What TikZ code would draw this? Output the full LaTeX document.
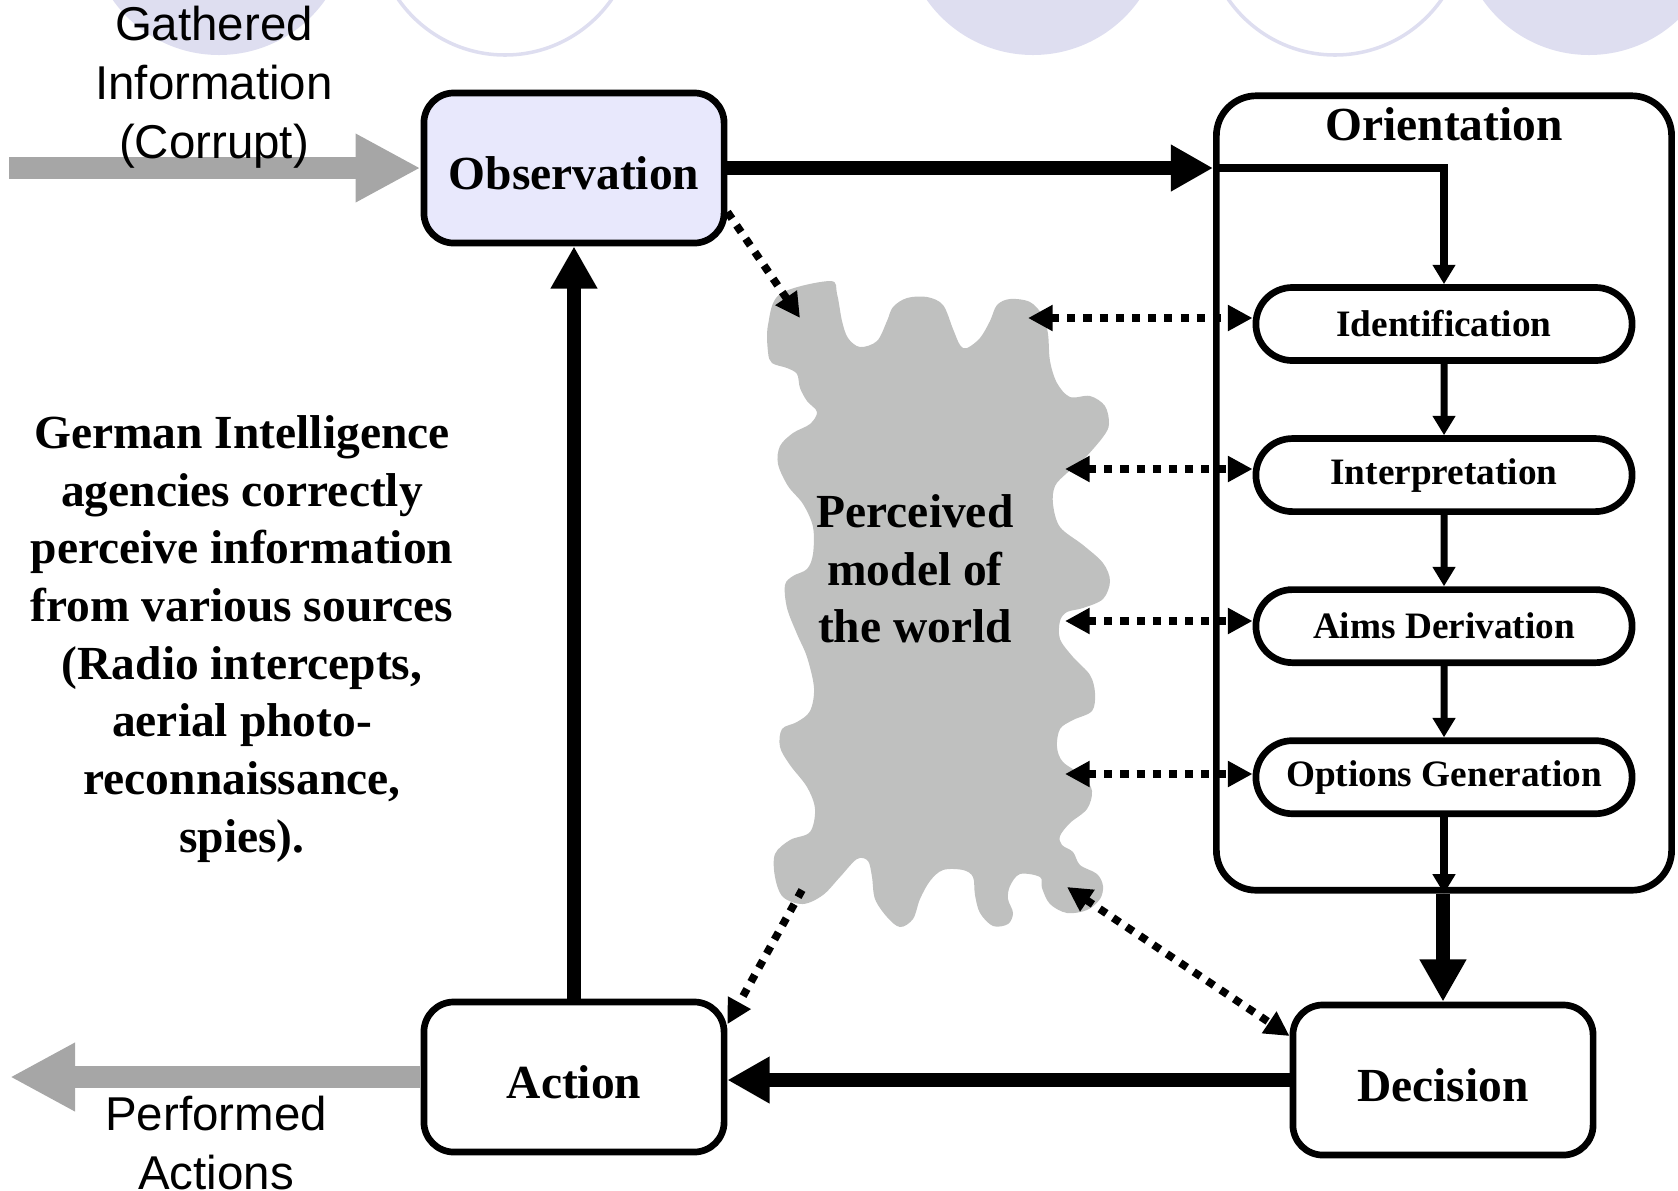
\documentclass[tikz,border=0pt]{standalone}
\usepackage{fontspec}
\setmainfont{Liberation Serif}
\setsansfont{Liberation Sans}
\usetikzlibrary{arrows.meta, positioning, shapes.misc}

\definecolor{lavender}{HTML}{DEDEF0}
\definecolor{obsfill}{HTML}{E8E8FC}
\definecolor{cloudgray}{HTML}{BFC0BF}
\definecolor{arrowgray}{HTML}{A6A6A6}

\begin{document}
\begin{tikzpicture}[
   x = 0.01cm, y = -0.01cm,
   stage/.style = {draw, line width=1.9pt, rounded corners=0.3cm,
      minimum width=3cm, minimum height=1.5cm, text height=12pt, text depth=0pt,
      font=\fontsize{13.5pt}{16pt}\selectfont\bfseries},
   substage/.style = {draw, rounded rectangle, line width=1.9pt, inner sep=0pt,
      minimum width=3.76cm, minimum height=0.73cm,
      font=\fontsize{10.6pt}{12pt}\selectfont\bfseries},
   bigtext/.style = {align=center, font=\fontsize{13.5pt}{16.4pt}\selectfont\bfseries},
   sanstext/.style = {align=center, font=\sffamily\fontsize{13.5pt}{16.8pt}\selectfont},
   bigarrow/.style = {line width=3.8pt, -{Triangle[length=12pt, width=12.5pt]}},
   smallarrow/.style = {line width=2pt, -{Triangle[length=5.5pt, width=6.2pt]}},
   dotarrow/.style = {line width=2.2pt, dash pattern=on 2.3pt off 2.3pt,
      -{Triangle[length=7pt, width=7pt]}},
   dotboth/.style = {dotarrow, {Triangle[length=7pt, width=7pt]}-{Triangle[length=7pt, width=7pt]}},
   grayarrow/.style = {draw=arrowgray, line width=6pt,
      -{Triangle[length=18.5pt, width=18.2pt]}}]

   \useasboundingbox (0,0) rectangle (1678,1190);

   % slide decoration
   \begin{scope}
      \clip (0,0) rectangle (1678,1190);
      \fill[lavender] (219,-75) circle (130);
      \draw[lavender, line width=1pt] (505,-75) circle (130);
      \fill[lavender] (1033,-75) circle (130);
      \draw[lavender, line width=1pt] (1335,-75) circle (130);
      \fill[lavender] (1589,-75) circle (130);
   \end{scope}

   % perceived model of the world
   \fill[cloudgray] plot[smooth cycle, tension=0.55] coordinates {
      (768,325) (780,294) (830,281) (837,294) (842,321) (848,338) (860,347)
      (877,341) (887,321) (893,307) (907,298) (927,297) (943,305) (953,329)
      (960,345) (967,348) (980,338) (990,321) (997,305) (1010,299) (1030,302)
      (1043,316) (1048,334) (1050,361) (1057,383) (1070,397) (1090,396)
      (1105,406) (1109,424) (1103,437) (1083,460) (1067,473) (1055,486)
      (1053,504) (1060,527) (1083,545) (1103,563) (1110,581) (1103,599)
      (1083,608) (1067,612) (1060,621) (1060,639) (1073,657) (1090,675)
      (1095,693) (1092,711) (1073,720) (1060,729) (1057,747) (1063,762)
      (1083,776) (1092,791) (1087,809) (1070,823) (1060,836) (1062,845)
      (1073,852) (1080,865) (1097,874) (1103,886) (1100,899) (1087,910)
      (1067,913) (1050,904) (1042,888) (1040,877) (1020,874) (1010,886)
      (1008,899) (1013,913) (1008,924) (993,926) (980,913) (975,895)
      (973,877) (963,870) (943,870) (930,881) (920,899) (913,919) (900,927)
      (887,917) (875,899) (872,877) (868,861) (857,859) (840,877) (823,895)
      (803,904) (783,897) (775,877) (775,854) (790,840) (810,832) (815,809)
      (807,787) (790,765) (780,747) (782,729) (797,722) (810,711) (814,688)
      (807,657) (797,634) (787,608) (785,585) (793,576) (807,569) (813,554)
      (813,527) (803,504) (788,486) (778,464) (780,446) (793,433) (810,424)
      (817,412) (807,401) (800,388) (797,374) (787,368) (772,363) (768,352)};
   \node[bigtext] (world) at (915,569) {Perceived\\model of\\the world};

   \coordinate (co) at (800,318);
   \coordinate (ci) at (1028,318);
   \coordinate (cp) at (1065,469);
   \coordinate (cm) at (1065,621);
   \coordinate (cg) at (1065,774);
   \coordinate (cd) at (1067,887);
   \coordinate (ca) at (802,890);

   % loop stages
   \node[stage, fill=obsfill] (obs) at (574,168) {Observation};
   \node[stage] (act) at (574,1077) {Action};
   \node[stage] (dec) at (1443,1080) {Decision};

   \node[draw, line width=1.9pt, rounded corners=0.4cm,
      minimum width=4.55cm, minimum height=7.94cm] (ori) at (1444,493) {};
   \node[bigtext] (orititle) at (1444,124) {Orientation};

   \node[substage] (idn) at (1444,324) {Identification};
   \node[substage, below=0.713cm of idn] (inp) {Interpretation};
   \node[substage, below=0.713cm of inp] (aim) {Aims Derivation};
   \node[substage, below=0.713cm of aim] (opt) {Options Generation};

   \draw[bigarrow] (obs.east) -- (obs.east -| ori.west);
   \draw[smallarrow] (obs.east -| ori.west) -| (idn.north);
   \draw[smallarrow] (idn) -- (inp);
   \draw[smallarrow] (inp) -- (aim);
   \draw[smallarrow] (aim) -- (opt);
   \draw[smallarrow] (opt.south) -- (opt.south |- ori.south);
   \draw[bigarrow] (dec.north |- ori.south) -- (dec.north);
   \draw[bigarrow] (dec.west) -- (dec.west -| act.east);
   \draw[bigarrow] (act.north) -- (obs.south);

   % links with the model of the world
   \draw[dotarrow] (obs.-16) -- (co);
   \draw[dotarrow] (ca) -- (act.19);
   \draw[dotboth] (cd) -- (dec.164);
   \draw[dotboth] (ci) -- (ci -| idn.west);
   \draw[dotboth] (cp) -- (cp -| inp.west);
   \draw[dotboth] (cm) -- (cm -| aim.west);
   \draw[dotboth] (cg) -- (cg -| opt.west);

   % input and output
   \coordinate (gin) at (9,168);
   \coordinate (gout) at (10,1077);
   \draw[grayarrow] (gin) -- (obs.west);
   \draw[grayarrow] (act.west) -- (gout);
   \node[sanstext] (gathered) at (214,87) {Gathered\\Information\\(Corrupt)};
   \node[sanstext] (performed) at (216,1143) {Performed\\Actions};

   \node[bigtext] (note) at (242,639) {German Intelligence\\agencies correctly\\perceive information\\from various sources\\(Radio intercepts,\\aerial photo-\\reconnaissance,\\spies).};
\end{tikzpicture}
\end{document}
